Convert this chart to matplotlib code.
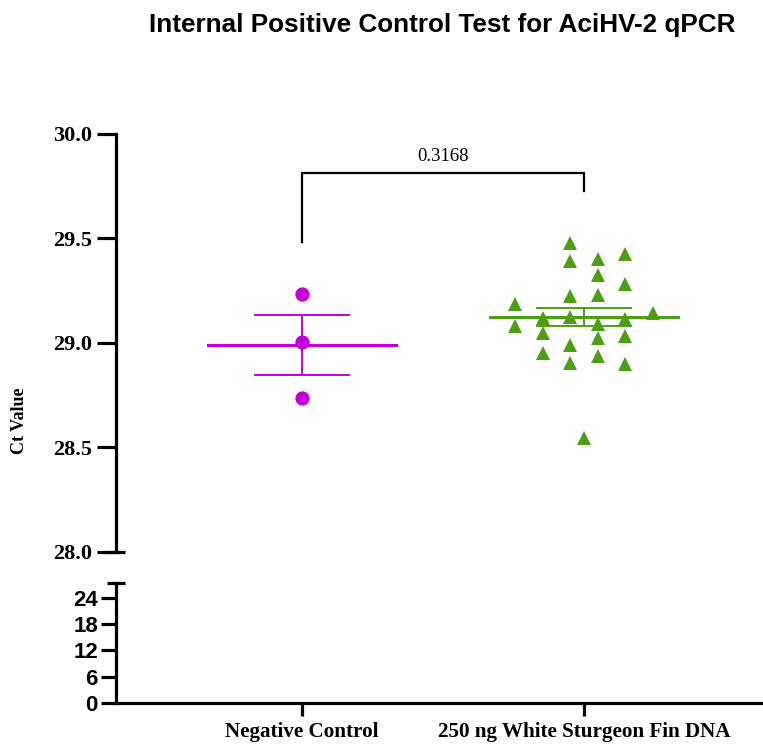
import matplotlib
matplotlib.use("Agg")
import matplotlib.pyplot as plt
import numpy as np

# Ct values per group
neg_ct = [29.234, 29.005, 28.737]
fin_ct = [29.187, 29.081,
          29.118, 29.049, 28.954,
          29.477, 29.394, 29.226, 29.123, 28.989, 28.903,
          29.400, 29.325, 29.230, 29.091, 29.022, 28.938,
          29.426, 29.281, 29.116, 29.033, 28.900,
          29.142,
          28.544]
# scatter column of each fin-DNA point, 0 = group centre
fin_col = [-2.5, -2.5,
           -1.5, -1.5, -1.5,
           -0.5, -0.5, -0.5, -0.5, -0.5, -0.5,
           0.5, 0.5, 0.5, 0.5, 0.5, 0.5,
           1.5, 1.5, 1.5, 1.5, 1.5,
           2.5,
           0]
groups = ["Negative Control", "250 ng White Sturgeon Fin DNA"]
p_value = "0.3168"

upper_ticks = [28.0, 28.5, 29.0, 29.5, 30.0]
lower_ticks = [0, 6, 12, 18, 24]

MAGENTA = "#c400d8"
GREEN = "#4c9f12"
SERIF = ["Liberation Serif", "DejaVu Serif"]
SANS = ["Liberation Sans", "DejaVu Sans"]

fig = plt.figure(figsize=(7.63, 7.44), dpi=100)
ax = fig.add_axes([0.152, 0.2581, 0.848, 0.5618])
axl = fig.add_axes([0.152, 0.0551, 0.848, 0.1613])

xlim = (-0.66, 1.635)
for a in (ax, axl):
    a.set_xlim(*xlim)
    a.spines["top"].set_visible(False)
    a.spines["right"].set_visible(False)
    a.spines["left"].set_linewidth(2.3)
    a.spines["bottom"].set_linewidth(2.3)
    a.patch.set_alpha(0)

# upper panel: the data
ax.set_ylim(28.0, 30.0)
ax.spines["bottom"].set_visible(False)
ax.set_xticks([])
ax.set_yticks(upper_ticks)
ax.set_yticklabels([f"{t:.1f}" for t in upper_ticks], fontfamily=SERIF,
                   fontweight="bold", fontsize=16)
ax.tick_params(axis="y", length=14, width=2.3, pad=3)


def draw_group(x, vals, color, marker, ms, xs):
    vals = np.asarray(vals)
    mean = vals.mean()
    sem = vals.std(ddof=1) / np.sqrt(len(vals))
    ax.plot([x - 0.333, x + 0.333], [mean, mean], color=color, lw=2.2, zorder=2)
    ax.plot([x, x], [mean - sem, mean + sem], color=color, lw=1.4, zorder=2)
    for yv in (mean - sem, mean + sem):
        ax.plot([x - 0.167, x + 0.167], [yv, yv], color=color, lw=1.4, zorder=2)
    ax.plot(xs, vals, ls="none", marker=marker, ms=ms, color=color,
            markeredgewidth=0, zorder=3)


draw_group(0, neg_ct, MAGENTA, "o", 10.3, np.zeros(len(neg_ct)))
draw_group(1, fin_ct, GREEN, "^", 10.5, 1 + np.array(fin_col) * 0.0975)

# significance bracket
ax.plot([0, 0, 1, 1], [29.483, 29.813, 29.813, 29.727], color="black",
        lw=1.6, solid_joinstyle="miter", clip_on=False)
ax.text(0.5, 29.85, p_value, ha="center", va="bottom", fontfamily=SERIF,
        fontsize=13.5)

# lower panel: zero-based segment of the broken axis
axl.set_ylim(0, 27.4)
axl.set_yticks(lower_ticks)
axl.set_yticklabels([str(t) for t in lower_ticks], fontfamily=SANS,
                    fontweight="bold", fontsize=16)
axl.tick_params(axis="y", length=11, width=2.3, pad=2)
axl.set_xticks([0, 1])
axl.set_xticklabels(groups, fontfamily=SERIF, fontweight="bold", fontsize=15.2)
axl.tick_params(axis="x", length=9, width=2.3, pad=5)

# break caps on both axis ends
for a, yv in ((ax, 28.0), (axl, 27.4)):
    a.plot([xlim[0]], [yv], marker="_", ms=13, mew=2.3, color="black",
           clip_on=False, zorder=5)

fig.text(0.579, 0.966, "Internal Positive Control Test for AciHV-2 qPCR",
         ha="center", va="center", fontfamily=SANS, fontweight="bold",
         fontsize=18.8)
fig.text(0.026, 0.435, "Ct Value", rotation=90, ha="center", va="center",
         fontfamily=SERIF, fontweight="bold", fontsize=13)

fig.savefig("out.png", dpi=100)
